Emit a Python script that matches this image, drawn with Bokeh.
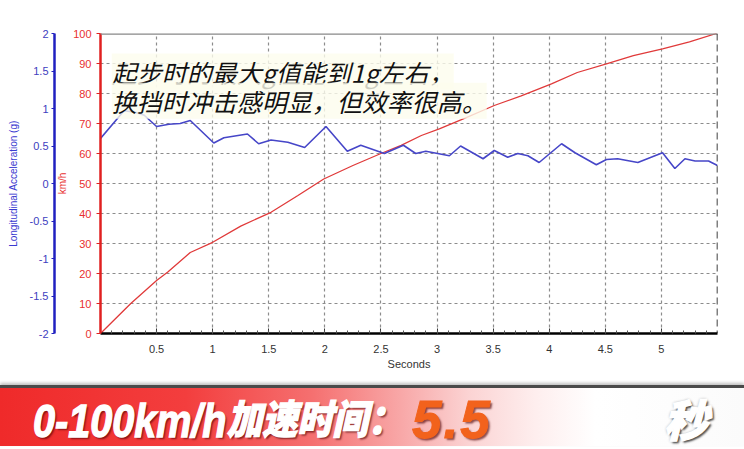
import numpy as np
from bokeh.plotting import figure
from bokeh.models import (Range1d, LinearAxis, FixedTicker, Span, Label,
                          CustomJSTickFormatter, Div)
from bokeh.layouts import column
from bokeh.embed import file_html
from bokeh.resources import INLINE

# ---------------- data ----------------
t_speed = [0, 0.27, 0.5, 0.6, 0.8, 1.0, 1.25, 1.52, 1.76, 1.99, 2.25, 2.5, 2.68,
           2.86, 3.02, 3.25, 3.51, 3.75, 4.02, 4.25, 4.51, 4.75, 5.01, 5.25, 5.49]
speed = [0, 10, 17.7, 20.5, 27, 30.4, 35.8, 40.4, 46, 51.5, 56, 60, 62.7,
         66, 68.2, 71.8, 76, 79.2, 83.2, 87, 89.9, 92.6, 94.9, 97.2, 100]

t_acc = [0, 0.21, 0.31, 0.39, 0.5, 0.61, 0.71, 0.8, 1.01, 1.10, 1.31, 1.41, 1.52,
         1.67, 1.82, 2.01, 2.2, 2.32, 2.53, 2.7, 2.81, 2.9, 3.11, 3.21, 3.41,
         3.51, 3.63, 3.72, 3.81, 3.91, 4.11, 4.23, 4.42, 4.51, 4.61, 4.79, 5.01,
         5.12, 5.21, 5.30, 5.42, 5.5]
acc = [0.6, 0.97, 0.95, 0.91, 0.76, 0.79, 0.8, 0.84, 0.54, 0.61, 0.66, 0.53, 0.58,
       0.55, 0.48, 0.76, 0.43, 0.51, 0.4, 0.51, 0.4, 0.43, 0.37, 0.5, 0.33,
       0.44, 0.35, 0.4, 0.37, 0.28, 0.53, 0.41, 0.25, 0.32, 0.33, 0.28, 0.41,
       0.2, 0.33, 0.3, 0.3, 0.24]

x_ticks = [0.5, 1, 1.5, 2, 2.5, 3, 3.5, 4, 4.5, 5]
speed_ticks = [0, 10, 20, 30, 40, 50, 60, 70, 80, 90, 100]
acc_ticks = [-2, -1.5, -1, -0.5, 0, 0.5, 1, 1.5, 2]

note_line1 = "起步时的最大g值能到1g左右，"
note_line2 = "换挡时冲击感明显，但效率很高。"
banner_text = "0-100km/h"
banner_cjk = "加速时间："
banner_value = "5.5"
banner_unit = "秒"

AXF = "Liberation Sans"
CJK = "Noto Sans CJK SC"
RED = "#e02020"
BLUE = "#2020c0"

W = 744

# ---------------- main chart ----------------
p = figure(width=W, height=385, x_range=Range1d(0, 5.5), y_range=Range1d(0, 100),
           output_backend="svg", toolbar_location=None,
           min_border_left=100, min_border_right=27, min_border_top=33,
           min_border_bottom=52)
p.outline_line_color = None
p.background_fill_color = "white"
p.border_fill_color = "white"
p.extra_y_ranges = {"acc": Range1d(-2, 2)}

fmt = CustomJSTickFormatter(code="return String(tick);")

# x axis
xa = p.xaxis[0]
xa.ticker = FixedTicker(ticks=x_ticks,
                        minor_ticks=[round(v, 2) for v in np.arange(0.1, 5.5, 0.1)])
xa.formatter = fmt
xa.axis_label = "Seconds"
xa.axis_line_color = "black"
xa.axis_line_width = 2.5
xa.major_tick_in = 5
xa.major_tick_out = 0
xa.minor_tick_in = 3
xa.minor_tick_out = 0
xa.major_tick_line_color = "#333"
xa.minor_tick_line_color = "#555"
xa.major_label_text_font = AXF
xa.major_label_text_font_size = "11px"
xa.major_label_text_color = "#333"
xa.major_label_standoff = 11
xa.axis_label_text_font = AXF
xa.axis_label_text_font_size = "11px"
xa.axis_label_text_font_style = "normal"
xa.axis_label_text_color = "#333"
xa.axis_label_standoff = 2

# red speed axis (default left)
ya = p.yaxis[0]
ya.ticker = FixedTicker(ticks=speed_ticks)
ya.formatter = fmt
ya.axis_label = "km/h"
ya.axis_line_color = RED
ya.axis_line_width = 2.5
ya.major_tick_line_color = RED
ya.major_tick_out = 4
ya.major_tick_in = 0
ya.minor_tick_out = 0
ya.minor_tick_in = 0
ya.major_label_text_font = AXF
ya.major_label_text_font_size = "11px"
ya.major_label_text_color = "#e83030"
ya.major_label_standoff = 5
ya.axis_label_text_font = AXF
ya.axis_label_text_font_size = "10px"
ya.axis_label_text_font_style = "normal"
ya.axis_label_text_color = "#e83030"
ya.axis_label_standoff = 2
ya.axis_label_text_line_height = 2.0

# blue acceleration axis
ba = LinearAxis(y_range_name="acc", ticker=FixedTicker(ticks=acc_ticks), formatter=fmt)
ba.axis_label = "Longitudinal Acceleration (g)"
ba.axis_line_color = BLUE
ba.axis_line_width = 2.5
ba.major_tick_line_color = BLUE
ba.major_tick_out = 3
ba.major_tick_in = 0
ba.minor_tick_out = 0
ba.minor_tick_in = 0
ba.major_label_text_font = AXF
ba.major_label_text_font_size = "11px"
ba.major_label_text_color = "#4040c0"
ba.major_label_standoff = 3
ba.axis_label_text_font = AXF
ba.axis_label_text_font_size = "10px"
ba.axis_label_text_font_style = "normal"
ba.axis_label_text_color = "#3a3ad0"
ba.axis_label_standoff = 8
p.add_layout(ba, "left")

# grid
p.xgrid.ticker = FixedTicker(ticks=x_ticks)
p.ygrid.ticker = FixedTicker(ticks=speed_ticks)
for g in (p.xgrid[0], p.ygrid[0]):
    g.grid_line_color = "#8c8c8c"
    g.grid_line_dash = "3 3"
    g.grid_line_width = 1.2

# frame top and right
p.add_layout(Span(location=100, dimension="width", line_color="#888888", line_width=2.5))
p.add_layout(Span(location=5.5, dimension="height", line_color="black",
                  line_width=1.5, line_dash="7 4"))

# series
p.line(t_speed, speed, line_color="#e03a3a", line_width=1.3)
p.line(t_acc, acc, y_range_name="acc", line_color="#4646c8", line_width=1.6)

# annotation
for txt, yb in ((note_line1, 87.3), (note_line2, 77.6)):
    p.add_layout(Label(x=0.1, y=yb, text=txt, text_font=CJK, text_font_size="25px",
                       text_font_style="italic", text_color="#111111",
                       text_baseline="alphabetic",
                       background_fill_color="#fdfcee", background_fill_alpha=0.8))

# ---------------- banner (HTML block with real text) ----------------
shadow = "text-shadow:2px 2px 2px rgba(80,0,0,0.65);"
shadow_gray = "text-shadow:2px 2px 2px rgba(60,60,60,0.9),0 0 3px rgba(0,0,0,0.45);"
base = ("position:absolute;white-space:nowrap;line-height:1;font-style:italic;"
        "font-weight:900;")
wstroke = "-webkit-text-stroke:1.3px #ffffff;"
banner_html = (
    '<div style="position:relative;width:744px;height:61px;'
    'border-top:3px solid #4a4a4a;box-shadow:0 -2px 3px rgba(0,0,0,0.25);'
    'background:linear-gradient(to right,#ef2a2a 0%,#f33e3e 25%,#f57070 42%,'
    '#f8a8a8 54%,#fbd3d3 63%,#feeeee 72%,#ffffff 80%,#fbfbfb 100%);">'
    f'<span style="{base}{shadow}{wstroke}left:33px;top:10px;font-family:\'Liberation Sans\';'
    f'font-size:46px;color:#fff;transform:scaleX(0.86);transform-origin:left top;">{banner_text}</span>'
    f'<span style="{base}{shadow}{wstroke}left:227px;top:9px;font-family:\'{CJK}\';'
    f'font-size:40px;color:#fff;transform:scaleX(0.88);transform-origin:left top;">{banner_cjk}</span>'
    f'<span style="{base}{shadow}-webkit-text-stroke:1px #f2621c;left:412px;top:5px;'
    f'font-family:\'Liberation Sans\';letter-spacing:2px;'
    f'font-size:53px;color:#f2621c;">{banner_value}</span>'
    f'<span style="{base}{shadow_gray}{wstroke}left:664px;top:8px;font-family:\'{CJK}\';'
    f'font-size:44px;color:#fff;">{banner_unit}</span>'
    '</div>'
)
banner = Div(text=banner_html, width=W, height=64, margin=(0, 0, 0, 0))

layout = column(p, banner, spacing=0)
open("out.html", "w").write(file_html(layout, INLINE))
